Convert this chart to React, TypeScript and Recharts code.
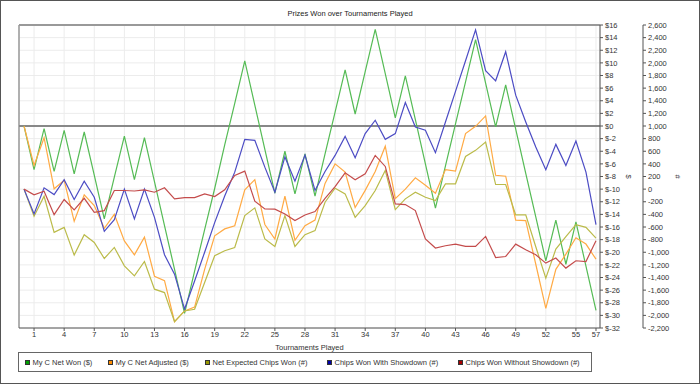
import React from "react"
import { LineChart, Line, XAxis, YAxis, CartesianGrid, ReferenceLine, Legend } from "recharts"

// values read per tournament (index 0 = start, all zero)
const myCNetWon = [
  0, -6.9, -0.4, -7.2, -0.7, -7.6, -0.95, -7.8, -14.7, -8.1,
  -1.6, -8.5, -1.85, -8.8, -15.8, -22.7, -29.7, -23.0, -16.4, -9.9,
  -3.0, 3.6, 10.3, 3.3, -3.7, -10.65, -4.0, -10.75, -4.4, -11.1,
  -4.4, 2.2, 8.9, 1.9, 8.6, 15.3, 8.3, 1.3, 7.95, 1.0,
  -6.0, -13.0, -6.3, 0.35, 7.0, 13.7, 6.8, -0.15, 6.5, -0.5,
  -7.5, -14.4, -21.35, -14.9, -21.9, -15.2, -22.2, -29.2,
]
const myCNetAdjusted = [
  0, -6.25, -1.85, -9.95, -8.6, -15.1, -10.9, -12.6, -16.2, -14.0,
  -18.2, -20.4, -17.6, -23.8, -24.5, -31.0, -29.3, -28.7, -22.7, -17.4,
  -16.3, -15.8, -10.1, -8.5, -15.6, -17.9, -11.1, -18.1, -15.8, -14.9,
  -9.1, -6.0, -7.3, -12.9, -10.2, -7.2, -3.2, -11.5, -10.0, -8.2,
  -9.4, -10.65, -6.9, -7.15, -1.2, -0.05, 1.6, -7.8, -7.95, -14.9,
  -15.0, -21.9, -28.9, -22.7, -20.3, -17.7, -18.7, -21.1,
]
const netExpectedChips = [
  0, -431, -113, -685, -606, -1045, -722, -844, -1099, -924,
  -1215, -1374, -1147, -1585, -1639, -2100, -1930, -1903, -1480, -1056,
  -976, -924, -420, -297, -790, -908, -420, -908, -722, -658,
  -208, 14, -75, -447, -261, -22, 296, -324, -154, -49,
  -129, -181, 84, 84, 518, 614, 746, 73, 73, -409,
  -409, -913, -1410, -950, -754, -563, -606, -775,
]
const chipsWithShowdown = [
  0, -393, 21, -86, 148, -165, 126, -129, -669, -483,
  0, -472, 0, -447, -1040, -1347, -1900, -1455, -1000, -530,
  -110, 269, 789, 773, 348, -49, 510, 126, 540, -22,
  280, 534, 836, 497, 879, 1091, 789, 879, 1372, 984,
  932, 577, 1063, 1548, 2034, 2522, 1875, 1716, 2177, 1488,
  1064, 666, 307, 709, 375, 762, 269, -563,
]
const chipsWithoutShowdown = [
  0, -91, -34, -404, -165, -329, -145, -367, -340, -22,
  -22, -30, -11, -49, 21, -154, -134, -134, -75, -118,
  -11, 216, 285, -192, -313, -318, -393, -499, -409, -356,
  -145, 41, 259, 148, 243, 534, 359, -234, -245, -340,
  -790, -933, -897, -871, -908, -908, -749, -1083, -1067, -871,
  -960, -1040, -1172, -1092, -1251, -1135, -1147, -817,
]

const xTicks = [1, 4, 7, 10, 13, 16, 19, 22, 25, 28, 31, 34, 37, 40, 43, 46, 49, 52, 55, 57]
const usdTicks = [
  -32, -30, -28, -26, -24, -22, -20, -18, -16, -14, -12, -10, -8, -6, -4, -2,
  0, 2, 4, 6, 8, 10, 12, 14, 16,
]
const chipTicks = [
  -2200, -2000, -1800, -1600, -1400, -1200, -1000, -800, -600, -400, -200,
  0, 200, 400, 600, 800, 1000, 1200, 1400, 1600, 1800, 2000, 2200, 2400, 2600,
]

// axis ids: "axisA" = dollars (next to plot), "axisB" = chips (outer)
const series = [
  { key: "won", name: "My C Net Won ($)", axis: "axisA", color: "#55bb55", swatch: "#00a000" },
  { key: "adj", name: "My C Net Adjusted ($)", axis: "axisA", color: "#ffaa44", swatch: "#ff8c00" },
  { key: "exp", name: "Net Expected Chips Won (#)", axis: "axisB", color: "#bbbb4a", swatch: "#999900" },
  { key: "sd", name: "Chips Won With Showdown (#)", axis: "axisB", color: "#4c4cc4", swatch: "#0000aa" },
  { key: "nosd", name: "Chips Won Without Showdown (#)", axis: "axisB", color: "#c44c4c", swatch: "#aa0000" },
]

const rows = myCNetWon.map((v, i) => ({
  t: i,
  won: v,
  adj: myCNetAdjusted[i],
  exp: netExpectedChips[i],
  sd: chipsWithShowdown[i],
  nosd: chipsWithoutShowdown[i],
}))

const FONT = "'Liberation Sans', Arial, sans-serif"
const tickStyle = { fontSize: 7.5, fill: "#333", fontFamily: FONT }

const AxisName = ({ viewBox, text, dx }: any) => {
  const x = viewBox.x + dx
  const y = viewBox.y + viewBox.height / 2
  return (
    <text
      x={x}
      y={y}
      transform={`rotate(90, ${x}, ${y})`}
      textAnchor="middle"
      dominantBaseline="central"
      fontSize={7.5}
      fill="#333"
      fontFamily={FONT}
    >
      {text}
    </text>
  )
}

// left edge of each legend entry inside the box
const legendLeft = [6, 89, 186, 308, 439]

const LegendBox = () => (
  <div
    style={{
      position: "relative",
      boxSizing: "border-box",
      width: 574,
      height: 20,
      border: "1px solid #666",
      fontSize: 7.5,
      color: "#333",
      fontFamily: FONT,
      whiteSpace: "nowrap",
    }}
  >
    {series.map((s, i) => (
      <span
        key={s.key}
        style={{ position: "absolute", left: legendLeft[i], top: 0, height: 18, display: "flex", alignItems: "center" }}
      >
        <span
          style={{
            display: "inline-block",
            boxSizing: "border-box",
            width: 5,
            height: 5,
            background: s.swatch,
            border: "1px solid #333",
            marginRight: 2.5,
          }}
        />
        {s.name}
      </span>
    ))}
  </div>
)

export default function App() {
  return (
    <div style={{ position: "absolute", left: 0, top: 0, width: 700, height: 384, background: "#fff", fontFamily: FONT }}>
      <div
        style={{
          position: "absolute",
          left: 0,
          top: 9,
          width: 700,
          textAlign: "center",
          fontSize: 7.5,
          lineHeight: "10px",
          color: "#222",
        }}
      >
        Prizes Won over Tournaments Played
      </div>
      <LineChart width={700} height={384} data={rows} margin={{ top: 25, right: 14, bottom: 32, left: 19 }}>
        <CartesianGrid yAxisId="axisA" stroke="#ececec" />
        <XAxis
          dataKey="t"
          type="number"
          domain={[-0.5, 57.4]}
          ticks={xTicks}
          interval={0}
          allowDataOverflow
          tickSize={3}
          tickMargin={1}
          height={24}
          stroke="#555"
          tick={tickStyle}
          label={{ value: "Tournaments Played", position: "insideBottom", offset: 2, fontSize: 7.5, fill: "#333" }}
        />
        <YAxis
          yAxisId="axisA"
          orientation="right"
          domain={[-32, 16]}
          ticks={usdTicks}
          interval={0}
          allowDataOverflow
          width={43}
          tickSize={3}
          tickMargin={2}
          stroke="#555"
          tick={tickStyle}
          tickFormatter={(v) => `$${v}`}
          label={<AxisName text="$" dx={28} />}
        />
        <YAxis
          yAxisId="axisB"
          orientation="right"
          domain={[-2200, 2600]}
          ticks={chipTicks}
          interval={0}
          allowDataOverflow
          width={43}
          tickSize={3}
          tickMargin={2}
          stroke="#555"
          tick={tickStyle}
          tickFormatter={(v) => v.toLocaleString("en-US")}
          label={<AxisName text="#" dx={34} />}
        />
        <ReferenceLine yAxisId="axisA" y={16} stroke="#999" strokeWidth={2} />
        <ReferenceLine yAxisId="axisA" x={-0.5} stroke="#999" strokeWidth={1.5} />
        <ReferenceLine yAxisId="axisA" y={0} stroke="#888" strokeWidth={2} />
        {series.map((s) => (
          <Line
            key={s.key}
            yAxisId={s.axis}
            type="linear"
            dataKey={s.key}
            name={s.name}
            stroke={s.color}
            strokeWidth={1.2}
            dot={false}
            isAnimationActive={false}
          />
        ))}
        <Legend
          layout="horizontal"
          verticalAlign="middle"
          align="center"
          wrapperStyle={{ left: 18, top: 352, width: 574, height: 20 }}
          content={() => <LegendBox />}
        />
      </LineChart>
      <div
        style={{
          position: "absolute",
          left: 0,
          top: 0,
          width: 700,
          height: 384,
          boxSizing: "border-box",
          border: "1px solid #555",
          pointerEvents: "none",
        }}
      />
    </div>
  )
}
